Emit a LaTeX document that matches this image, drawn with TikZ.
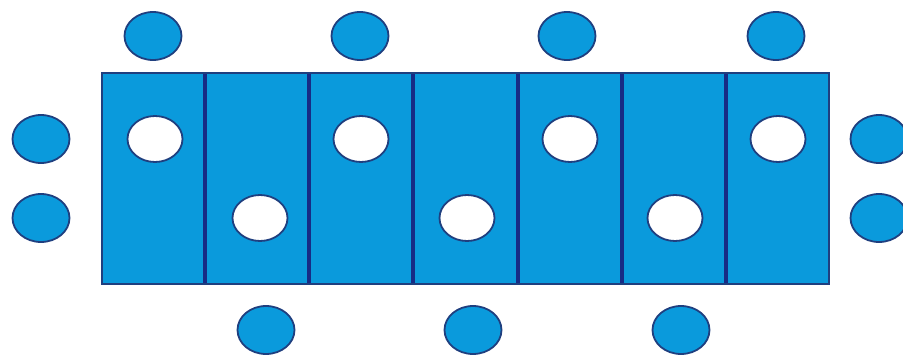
\documentclass[tikz,border=0pt]{standalone}
\definecolor{fillblue}{HTML}{0A9ADC}
\definecolor{edgeblue}{HTML}{1F3F7F}
\definecolor{divblue}{HTML}{172B85}
\tikzset{
  seat/.style={ellipse, draw=edgeblue, line width=1.8pt, fill=fillblue, minimum width=57pt, minimum height=48pt, inner sep=0pt},
  hole/.style={ellipse, draw=edgeblue, line width=1.8pt, fill=white, minimum width=55pt, minimum height=46pt, inner sep=0pt},
  table/.style={draw=edgeblue, line width=1.4pt, fill=fillblue},
  divider/.style={draw=divblue, line width=4pt}
}
\usetikzlibrary{shapes.geometric}
\begin{document}
\begin{tikzpicture}[x=1pt,y=-1pt]
\useasboundingbox (0,0) rectangle (903,354);
\path[table] (102,73) rectangle (829,284);
\foreach \i/\x in {1/205,2/309,3/413,4/518,5/622,6/726}{
  \coordinate (dt\i) at (\x,74);
  \coordinate (db\i) at (\x,283);
  \draw[divider] (dt\i) -- (db\i);
}
% white holes
\node[hole] (h1) at (155,139) {};
\node[hole] (h2) at (260,218) {};
\node[hole] (h3) at (361,139) {};
\node[hole] (h4) at (467,218) {};
\node[hole] (h5) at (570,139) {};
\node[hole] (h6) at (675,218) {};
\node[hole] (h7) at (778,139) {};
% top seats
\node[seat] (t1) at (153,36) {};
\node[seat] (t2) at (360,36) {};
\node[seat] (t3) at (567,36) {};
\node[seat] (t4) at (776,36) {};
% bottom seats
\node[seat] (b1) at (266,330) {};
\node[seat] (b2) at (473,330) {};
\node[seat] (b3) at (681,330) {};
% side seats
\node[seat] (l1) at (41,139) {};
\node[seat] (l2) at (41,218) {};
\node[seat] (r1) at (879,139) {};
\node[seat] (r2) at (879,218) {};
\end{tikzpicture}
\end{document}
